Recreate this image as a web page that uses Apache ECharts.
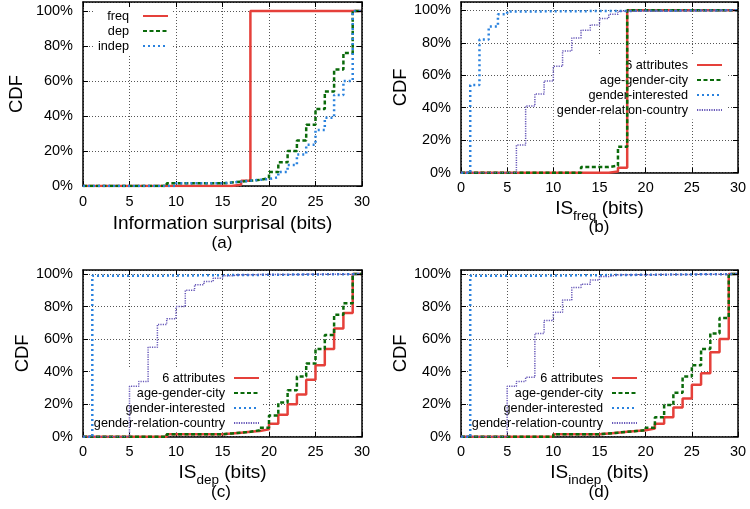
<!DOCTYPE html>
<html>
<head>
<meta charset="utf-8">
<script src="https://cdn.jsdelivr.net/npm/echarts@6/dist/echarts.min.js"></script>
<style>
html, body { margin: 0; padding: 0; background: #fff; }
#chart { width: 750px; height: 509px; }
</style>
</head>
<body>
<div id="chart"></div>
<script>
// tick values
const xTicks = [0, 5, 10, 15, 20, 25, 30]
const yTicks = [0, 20, 40, 60, 80, 100]

// CDF steps as [bits, percent]; value holds until the next step
const sixFreq = [[0, 0], [16, 0.7], [17, 3], [18, 100], [30, 100]]
const sixDep = [[0, 0], [9, 1.5], [15, 2], [16, 2.5], [17, 3], [18, 3.5], [19, 4.5], [20, 8], [21, 13.5],
  [22, 20], [23, 26], [24, 35], [25, 44], [26, 54], [27, 66.5], [28, 76], [29, 100], [30, 100]]
const sixIndep = [[0, 0], [10, 1.5], [15, 2], [16, 2.5], [17, 3], [18, 3.5], [19, 4], [20, 5], [21, 8],
  [22, 12], [23, 18], [24, 23.5], [25, 32], [26, 39], [27, 52], [28, 60], [29, 100], [30, 100]]

const agcFreq = [[0, 0], [13, 3.5], [16, 4.3], [17, 16], [18, 100], [30, 100]]
const agcDep = [[0, 0], [9, 1.5], [15, 2], [16, 2.5], [17, 3], [18, 4], [19, 5.5], [20, 13], [21, 21],
  [22, 28.5], [23, 37], [24, 45], [25, 54], [26, 62.5], [27, 75], [28, 82], [29, 100], [30, 100]]
const agcIndep = [[0, 0], [10, 1.5], [15, 2], [16, 2.5], [17, 3], [18, 3.5], [19, 4], [20, 5.5], [21, 12],
  [22, 19.5], [23, 27], [24, 37], [25, 44], [26, 54], [27, 63.5], [28, 73], [29, 100], [30, 100]]

const giFreq = [[0, 0], [1, 54], [2, 82], [3, 90], [4, 97.5], [5, 99.3], [8, 100], [30, 100]]
const giDep = [[0, 0], [1, 99], [8, 100], [30, 100]]
const giIndep = [[0, 0], [1, 99], [8, 100], [30, 100]]

const grcFreq = [[0, 0], [6, 17], [7, 41], [8, 48.5], [9, 56.5], [10, 65.5], [11, 75], [12, 83], [13, 87.7],
  [14, 91], [15, 95], [16, 97.5], [17, 99.4], [18, 100], [30, 100]]
const grcDep = [[0, 0], [5, 31], [6, 34], [7, 55], [8, 69], [9, 72.5], [10, 80], [11, 90], [12, 93.5],
  [13, 95.5], [14, 97.5], [15, 99], [16, 99.6], [17, 100], [30, 100]]
const grcIndep = [[0, 0], [5, 31], [6, 34], [7, 36.5], [8, 63.5], [9, 71.5], [10, 76.5], [11, 84], [12, 91.8],
  [13, 93.8], [14, 96.3], [15, 98.5], [16, 99.5], [17, 100], [30, 100]]

const FONT = 'Liberation Sans'
const styles = {
  red: {color: '#e5403a', width: 2.5, type: 'solid'},
  green: {color: '#0a6a0a', width: 2.5, type: [4, 2.5]},
  blue: {color: '#2a82de', width: 2.5, type: [2, 3]},
  purple: {color: '#6657b8', width: 1.5, type: [1.2, 1.2]}
}

const subRich = {
  m: {fontFamily: FONT, fontSize: 19, lineHeight: 19, color: '#000', verticalAlign: 'top'},
  s: {fontFamily: FONT, fontSize: 13.5, lineHeight: 13.5, color: '#000', verticalAlign: 'top', padding: [10, 0, 0, 0]}
}

// the frame reaches a little above 100%
const panels = [
  {grid: {left: 83, top: 2, width: 279, height: 184}, yTop: 105.1, yGap: 57, xGap: 28.5,
    xName: 'Information surprisal (bits)', tag: '(a)', tagX: 222, tagY: 243,
    legend: {right: 578, top: 6.5}, textGap: 9,
    lines: [['freq', sixFreq, 'red'], ['dep', sixDep, 'green'], ['indep', sixIndep, 'blue']]},
  {grid: {left: 461, top: 2, width: 277, height: 170.7}, yTop: 105.1, yGap: 50, xGap: 27,
    xName: '{m|IS}{s|freq}{m| (bits)}', tag: '(b)', tagX: 599, tagY: 227,
    legend: {right: 24, top: 55.5}, textGap: 4,
    lines: [['6 attributes', sixFreq, 'red'], ['age-gender-city', agcFreq, 'green'],
      ['gender-interested', giFreq, 'blue'], ['gender-relation-country', grcFreq, 'purple']]},
  {grid: {left: 83, top: 270, width: 279, height: 166.7}, yTop: 102.5, yGap: 51, xGap: 27,
    xName: '{m|IS}{s|dep}{m| (bits)}', tag: '(c)', tagX: 221, tagY: 492,
    legend: {right: 487, top: 368.5}, textGap: 4,
    lines: [['6 attributes', sixDep, 'red'], ['age-gender-city', agcDep, 'green'],
      ['gender-interested', giDep, 'blue'], ['gender-relation-country', grcDep, 'purple']]},
  {grid: {left: 461, top: 270, width: 277, height: 166.7}, yTop: 102.5, yGap: 51, xGap: 27,
    xName: '{m|IS}{s|indep}{m| (bits)}', tag: '(d)', tagX: 599, tagY: 492,
    legend: {right: 109, top: 368.5}, textGap: 4,
    lines: [['6 attributes', sixIndep, 'red'], ['age-gender-city', agcIndep, 'green'],
      ['gender-interested', giIndep, 'blue'], ['gender-relation-country', grcIndep, 'purple']]}
]

const xMin = xTicks[0], xMax = xTicks[xTicks.length - 1], xStep = xTicks[1] - xTicks[0]
const yMin = yTicks[0], yStep = yTicks[1] - yTicks[0]

const tick = {show: true, inside: true, length: 5, lineStyle: {color: '#000', width: 1}}
const frame = {show: true, onZero: false, lineStyle: {color: '#000', width: 1.5}}
const dotted = {show: true, lineStyle: {color: '#555', width: 1, type: [1, 2]}}
const yLabel = v => yTicks.includes(v) ? v + '%' : ''
const grids = [], xAxes = [], yAxes = [], series = [], legends = [], graphics = []

panels.forEach((p, i) => {
  grids.push({...p.grid, show: false})
  xAxes.push({
    type: 'value', gridIndex: i, min: xMin, max: xMax, interval: xStep,
    axisLine: frame, axisTick: tick,
    axisLabel: {fontFamily: FONT, fontSize: 14.5, color: '#000', margin: 8},
    splitLine: dotted,
    name: p.xName, nameLocation: 'middle', nameGap: p.xGap,
    nameTextStyle: {fontFamily: FONT, fontSize: 19, color: '#000', rich: subRich}
  })
  // mirrored top edge, drawn above the legend box
  xAxes.push({
    type: 'value', gridIndex: i, position: 'top', z: 5, min: xMin, max: xMax, interval: xStep,
    axisLine: frame, axisTick: tick, axisLabel: {show: false}, splitLine: {show: false}
  })
  yAxes.push({
    type: 'value', gridIndex: i, min: yMin, max: p.yTop, interval: yStep,
    axisLine: frame, axisTick: tick,
    axisLabel: {fontFamily: FONT, fontSize: 14.5, color: '#000', margin: 10, formatter: yLabel, showMaxLabel: false},
    splitLine: dotted,
    name: 'CDF', nameLocation: 'middle', nameGap: p.yGap,
    nameTextStyle: {fontFamily: FONT, fontSize: 18.5, color: '#000'}
  })
  yAxes.push({
    type: 'value', gridIndex: i, position: 'right', z: 5, min: yMin, max: p.yTop, interval: yStep,
    axisLine: frame, axisTick: tick, axisLabel: {show: false}, splitLine: {show: false}
  })
  p.lines.forEach(([name, data, key]) => {
    const st = styles[key]
    series.push({
      name, type: 'line', step: 'end', symbol: 'none', xAxisIndex: i * 2, yAxisIndex: i * 2,
      data, z: 3, animation: false,
      itemStyle: {color: st.color},
      lineStyle: {color: st.color, width: st.width, type: st.type, cap: 'butt'}
    })
  })
  legends.push({
    ...p.legend, orient: 'vertical', align: 'right', z: 1,
    data: p.lines.map(l => l[0]),
    backgroundColor: '#fff', padding: 3, itemGap: 2, itemWidth: 25, itemHeight: 10,
    selectedMode: false,
    itemStyle: {opacity: 0},
    textStyle: {fontFamily: FONT, fontSize: 12.7, color: '#000', padding: [0, p.textGap, 0, 0]}
  })
  graphics.push({
    type: 'text', x: p.tagX, y: p.tagY,
    style: {text: p.tag, font: '17px "Liberation Sans"', fill: '#000', textAlign: 'center', textVerticalAlign: 'middle'}
  })
})

const chart = echarts.init(document.getElementById('chart'))
chart.setOption({
  animation: false,
  backgroundColor: '#fff',
  grid: grids,
  xAxis: xAxes,
  yAxis: yAxes,
  legend: legends,
  graphic: graphics,
  series
})
</script>
</body>
</html>
